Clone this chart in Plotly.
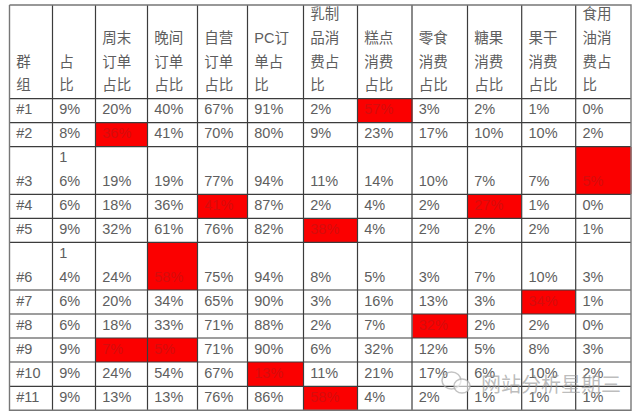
import plotly.graph_objects as go

headers = [
    ["群", "组"], ["占", "比"], ["周末", "订单", "占比"], ["晚间", "订单", "占比"],
    ["自营", "订单", "占比"], ["PC订", "单占", "比"], ["乳制", "品消", "费占", "比"],
    ["糕点", "消费", "占比"], ["零食", "消费", "占比"], ["糖果", "消费", "占比"],
    ["果干", "消费", "占比"], ["食用", "油消", "费占", "比"],
]
groups = ["#1", "#2", "#3", "#4", "#5", "#6", "#7", "#8", "#9", "#10", "#11"]
share   = [9, 8, 16, 6, 9, 14, 6, 6, 9, 9, 9]
weekend = [20, 36, 19, 18, 32, 24, 20, 18, 7, 24, 13]
evening = [40, 41, 19, 36, 61, 58, 34, 33, 5, 54, 13]
selfrun = [67, 70, 77, 41, 76, 75, 65, 71, 71, 67, 76]
pc      = [91, 80, 94, 87, 82, 94, 90, 88, 90, 13, 86]
dairy   = [2, 9, 11, 2, 38, 8, 3, 2, 6, 11, 58]
cake    = [57, 23, 14, 4, 4, 5, 16, 7, 32, 21, 4]
snack   = [3, 17, 10, 2, 2, 3, 13, 32, 12, 17, 2]
candy   = [2, 10, 7, 27, 2, 7, 3, 2, 5, 6, 1]
dried   = [1, 10, 7, 1, 2, 10, 34, 2, 8, 10, 1]
oil     = [0, 2, 5, 0, 1, 3, 1, 0, 3, 2, 1]
# (row, column) of the highlighted cells
highlighted = [(0, 7), (1, 2), (2, 11), (3, 4), (3, 9), (4, 6), (5, 3),
               (6, 10), (7, 8), (8, 2), (8, 3), (9, 5), (10, 6)]
watermark = "网站分析星期三"

# layout geometry, in picture pixels
col_edges = [9.5, 52.5, 95.5, 147.5, 197.5, 247.5, 303.5, 357.5, 412, 467.5, 521.7, 575.7, 631]
row_edges = [5, 98.7, 122.7, 146.7, 194.3, 218.3, 242.3, 290, 314, 338, 362, 386.3, 410.3]
LINE = 23.7
PAD = 6.8
FONT = "Liberation Sans, Arial, Noto Sans CJK SC, sans-serif"
TEXT = "#5e5e5e"
RED_TEXT = "#d60c0c"

columns = [share, weekend, evening, selfrun, pc, dairy, cake, snack, candy, dried, oil]
red = set(highlighted)
nrows, ncols = len(row_edges) - 1, len(col_edges) - 1

z = [[None] * ncols] + [[1 if (r, c) in red else None for c in range(ncols)] for r in range(nrows - 1)]

fig = go.Figure()
fig.add_trace(go.Heatmap(x=col_edges, y=row_edges, z=z, zmin=0, zmax=1, showscale=False,
                         colorscale=[[0, "#fb0000"], [1, "#fb0000"]], hoverinfo="skip"))

# inner rules, then the frame
ix, iy = [], []
for e in col_edges[1:-1]:
    ix += [e, e, None]
    iy += [row_edges[0], row_edges[-1], None]
for e in row_edges[1:-1]:
    ix += [col_edges[0], col_edges[-1], None]
    iy += [e, e, None]
fig.add_trace(go.Scatter(x=ix, y=iy, mode="lines", line=dict(color="#3c3c3c", width=1.2), hoverinfo="skip"))
fx = [col_edges[0], col_edges[-1], col_edges[-1], col_edges[0], col_edges[0]]
fy = [row_edges[0], row_edges[0], row_edges[-1], row_edges[-1], row_edges[0]]
fig.add_trace(go.Scatter(x=fx, y=fy, mode="lines", line=dict(color="#777777", width=1.4), hoverinfo="skip"))

tx, ty, tt, rx, ry, rt = [], [], [], [], [], []
def place(lines, c, r, hot=False):
    bottom = row_edges[r + 1] - 12
    n = len(lines)
    for i, s in enumerate(lines):
        (rx if hot else tx).append(col_edges[c] + PAD)
        (ry if hot else ty).append(bottom - (n - 1 - i) * LINE)
        (rt if hot else tt).append(s)

for c, lines in enumerate(headers):
    place(lines, c, 0)
for r, g in enumerate(groups):
    place([g], 0, r + 1)
    for j, col in enumerate(columns):
        s = f"{col[r]}%"
        lines = [s[0], s[1:]] if j == 0 and len(s) > 2 else [s]
        place(lines, j + 1, r + 1, (r, j + 1) in red)

fig.add_trace(go.Scatter(x=tx, y=ty, text=tt, mode="text", textposition="middle right",
                         textfont=dict(family=FONT, size=14.5, color=TEXT), hoverinfo="skip"))
fig.add_trace(go.Scatter(x=rx, y=ry, text=rt, mode="text", textposition="middle right",
                         textfont=dict(family=FONT, size=14.5, color=RED_TEXT), hoverinfo="skip"))

fig.add_annotation(x=479, y=383, xanchor="left", yanchor="middle", showarrow=False, text=watermark,
                   font=dict(family="Noto Sans CJK SC", size=20, color="rgba(150,150,150,0.65)"))
mark = "rgba(170,170,170,0.7)"
fig.add_shape(type="circle", x0=442, x1=461, y0=372, y1=389, line=dict(color=mark, width=1.5))
fig.add_shape(type="circle", x0=454, x1=470, y0=379, y1=393, line=dict(color=mark, width=1.5),
              fillcolor="rgba(255,255,255,0.6)")

fig.update_layout(
    width=641, height=418, margin=dict(l=0, r=0, t=0, b=0),
    paper_bgcolor="white", plot_bgcolor="white", showlegend=False,
    xaxis=dict(range=[0, 641], visible=False, fixedrange=True),
    yaxis=dict(range=[418, 0], visible=False, fixedrange=True),
)
fig.write_html("out.html", config={"displayModeBar": False},
               post_script="document.body.style.margin='0';document.documentElement.style.overflow='hidden';")
